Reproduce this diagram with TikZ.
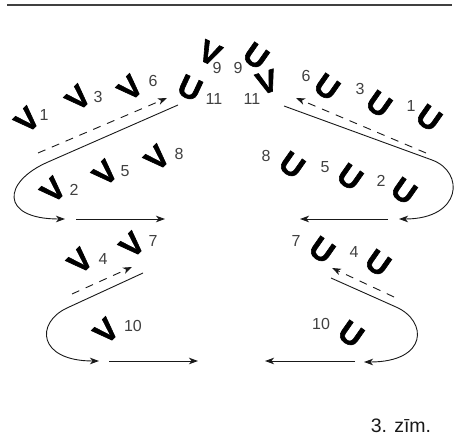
\documentclass[tikz,border=0pt]{standalone}
\usepackage{fontspec}
\setmainfont{Liberation Sans}
\newfontfamily\glyphfont{Liberation Sans}[FakeBold=2]
\usetikzlibrary{arrows.meta}
\tikzset{
  vg/.style={font=\glyphfont\bfseries\fontsize{31}{31}\selectfont, inner sep=0pt, text=black},
  lab/.style={font=\fontsize{16}{16}\selectfont, inner sep=0pt, text=black!75},
  route/.style={line width=0.9pt, draw=black!90},
  tipped/.style={-{Stealth[length=9pt,width=6.5pt,inset=2.5pt]}},
  dashline/.style={dash pattern=on 8pt off 7pt},
}
\begin{document}
\begin{tikzpicture}[x=1pt,y=-1pt]
\useasboundingbox (0,0) rectangle (458,443);
\draw[line width=1.3pt, black!75] (7,5) -- (452,5);

% left side glyphs
\foreach \n/\x/\y in {1/27/120, 3/78/98, 6/130/88, 2/53/190, 5/105/173, 8/157/158, 4/80/261, 7/132/245, 10/106/331}
  \node[vg, rotate=45] (lv\n) at (\x,\y) {V};
\node[vg, rotate=-25] (lv9) at (210,53) {V};
\node[vg, rotate=-25] (lu11) at (190,88) {U};

% right side glyphs
\foreach \n/\x/\y in {1/429/118, 3/379/104, 6/327/87, 9/256/56, 8/292/165, 5/350/177, 2/404/191, 7/322/250, 4/378/263, 10/351/334}
  \node[vg, rotate=-35] (ru\n) at (\x,\y) {U};
\node[vg, rotate=18] (rv11) at (267,82) {V};

% labels left
\foreach \n/\x/\y in {1/44/115, 3/98/97, 6/153/81, 9/217/68, 11/214/99, 2/74/190, 5/125/171, 8/179/154, 4/103/259, 7/153/241, 10/133/326}
  \node[lab] (ll\n) at (\x,\y) {\n};
% labels right
\foreach \n/\x/\y in {1/411/106, 3/360/89, 6/306/76, 9/238/68, 11/252/99, 8/266/156, 5/325/167, 2/381/181, 7/296/241, 4/354/252, 10/321/324}
  \node[lab] (rl\n) at (\x,\y) {\n};

% connector coordinates
\coordinate (lta) at (178,105);
\coordinate (ltb) at (48,162);
\coordinate (ltc) at (65,219);
\coordinate (lsa) at (76,219);
\coordinate (lsb) at (165,219);
\coordinate (lda) at (38,153);
\coordinate (ldb) at (167,98);

\coordinate (lba) at (143,273);
\coordinate (lbb) at (67,308);
\coordinate (lbc) at (99,361);
\coordinate (lbsa) at (109,361);
\coordinate (lbsb) at (198,361);
\coordinate (lbda) at (72,294);
\coordinate (lbdb) at (132,267);

\coordinate (rta) at (284,106);
\coordinate (rtb) at (432,160);
\coordinate (rtc) at (399,219);
\coordinate (rsa) at (388,219);
\coordinate (rsb) at (300,219);
\coordinate (rda) at (426,153);
\coordinate (rdb) at (296,98);

\coordinate (rba) at (331,278);
\coordinate (rbb) at (396,307);
\coordinate (rbc) at (364,362);
\coordinate (rbsa) at (355,361);
\coordinate (rbsb) at (265,361);
\coordinate (rbda) at (394,297);
\coordinate (rbdb) at (332,268);

% left top
\draw[route, tipped] (lta) -- (ltb) .. controls (2,182) and (0,219) .. (ltc);
\draw[route, tipped] (lsa) -- (lsb);
\draw[route, tipped, dashline] (lda) -- (ldb);
% left bottom
\draw[route, tipped] (lba) -- (lbb) .. controls (35,323) and (38,361) .. (lbc);
\draw[route, tipped] (lbsa) -- (lbsb);
\draw[route, tipped, dashline] (lbda) -- (lbdb);
% right top
\draw[route, tipped] (rta) -- (rtb) .. controls (465,172) and (462,219) .. (rtc);
\draw[route, tipped] (rsa) -- (rsb);
\draw[route, tipped, dashline] (rda) -- (rdb);
% right bottom
\draw[route, tipped] (rba) -- (rbb) .. controls (428,321) and (428,362) .. (rbc);
\draw[route, tipped] (rbsa) -- (rbsb);
\draw[route, tipped, dashline] (rbda) -- (rbdb);

\node[font=\fontsize{19.5}{19.5}\selectfont, inner sep=0pt, text=black!90] (cap) at (401,426) {3. zīm.};
\end{tikzpicture}
\end{document}
